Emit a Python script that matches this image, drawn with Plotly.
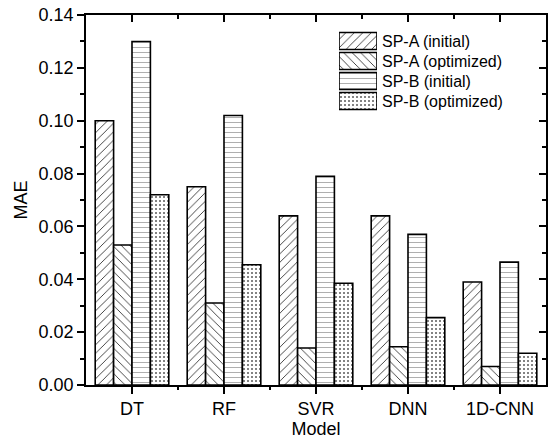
import plotly.graph_objects as go

models = ["DT", "RF", "SVR", "DNN", "1D-CNN"]
series_names = ["SP-A (initial)", "SP-A (optimized)", "SP-B (initial)", "SP-B (optimized)"]
sp_a_initial = [0.100, 0.075, 0.064, 0.064, 0.039]
sp_a_optimized = [0.053, 0.031, 0.014, 0.0145, 0.007]
sp_b_initial = [0.130, 0.102, 0.079, 0.057, 0.0465]
sp_b_optimized = [0.072, 0.0455, 0.0385, 0.0255, 0.012]
y_ticks = [0.00, 0.02, 0.04, 0.06, 0.08, 0.10, 0.12, 0.14]

series_values = [sp_a_initial, sp_a_optimized, sp_b_initial, sp_b_optimized]
patterns = [
    dict(shape="/", size=6, solidity=0.14, fgopacity=0.85),
    dict(shape="\\", size=6, solidity=0.14, fgopacity=0.85),
    dict(shape="-", size=5, solidity=0.14, fgopacity=0.45),
    dict(shape=".", size=4, solidity=0.2, fgopacity=0.65),
]

FONT = "Liberation Sans, Arial, sans-serif"
BLACK = "black"
fig = go.Figure()
for name, vals, pat in zip(series_names, series_values, patterns):
    fig.add_trace(go.Bar(
        x=models, y=vals, name=name, showlegend=False,
        marker=dict(color="white", line=dict(color=BLACK, width=1.6),
                    pattern=dict(fgcolor=BLACK, bgcolor="white", **pat)),
    ))

# legend drawn as a small helper subplot so the swatches are large boxes
for name, pat in zip(series_names, patterns):
    fig.add_trace(go.Bar(
        x=[1], y=[name], orientation="h", xaxis="x4", yaxis="y4",
        showlegend=False, hoverinfo="skip",
        marker=dict(color="white", line=dict(color=BLACK, width=1.6),
                    pattern=dict(fgcolor=BLACK, bgcolor="white", **pat)),
    ))

n = len(models)
L, R, T, B = 86, 2, 15, 56
W, H = 548, 441
pw = W - L - R
ph = H - T - B

def xf(px):
    return (px - L) / pw

def yf(py):
    return (H - B - py) / ph

fig.update_layout(
    width=W, height=H,
    margin=dict(l=L, r=R, t=T, b=B),
    paper_bgcolor="white", plot_bgcolor="white",
    barmode="group", bargap=0.2, bargroupgap=0,
    font=dict(family=FONT, size=18, color=BLACK),
    showlegend=False,
    xaxis=dict(
        title=dict(text="Model", standoff=4, font=dict(size=18)),
        showline=True, linecolor=BLACK, linewidth=1.6,
        ticks="outside", ticklen=7, tickwidth=1.6, tickcolor=BLACK,
        tickfont=dict(size=18),
        showgrid=False, zeroline=False, range=[-0.5, n - 0.5],
    ),
    xaxis2=dict(
        overlaying="x", side="top", range=[-0.5, n - 0.5],
        showline=True, linecolor=BLACK, linewidth=1.6,
        tickvals=list(range(n)), ticks="inside", ticklen=7, tickwidth=1.6, tickcolor=BLACK,
        showticklabels=False, showgrid=False, zeroline=False,
        minor=dict(tickvals=[i + 0.5 for i in range(n - 1)], ticks="inside",
                   ticklen=4, tickwidth=1.6, tickcolor=BLACK),
    ),
    xaxis3=dict(
        overlaying="x", side="bottom", range=[-0.5, n - 0.5],
        showline=False, tickvals=[i + 0.5 for i in range(n - 1)],
        ticks="outside", ticklen=4, tickwidth=1.6, tickcolor=BLACK,
        showticklabels=False, showgrid=False, zeroline=False,
    ),
    yaxis=dict(
        title=dict(text="MAE", standoff=6, font=dict(size=18)),
        range=[0, 0.14], tickvals=y_ticks, tickformat=".2f",
        tickfont=dict(size=18),
        showline=True, linecolor=BLACK, linewidth=1.6,
        ticks="outside", ticklen=7, tickwidth=1.6, tickcolor=BLACK,
        minor=dict(dtick=0.01, ticks="outside", ticklen=4, tickwidth=1.6, tickcolor=BLACK),
        showgrid=False, zeroline=False,
    ),
    yaxis2=dict(
        overlaying="y", side="right", range=[0, 0.14], tickvals=y_ticks,
        showline=True, linecolor=BLACK, linewidth=1.6,
        ticks="inside", ticklen=7, tickwidth=1.6, tickcolor=BLACK,
        minor=dict(dtick=0.01, ticks="inside", ticklen=4, tickwidth=1.6, tickcolor=BLACK),
        showticklabels=False, showgrid=False, zeroline=False,
    ),
    xaxis4=dict(
        domain=[xf(339), xf(377)], anchor="y4", range=[0, 1],
        visible=False, fixedrange=True,
    ),
    yaxis4=dict(
        domain=[yf(111), yf(31)], anchor="x4", side="right",
        autorange="reversed", showline=False, ticks="", showgrid=False,
        zeroline=False, tickfont=dict(size=16), ticklabelstandoff=4,
    ),
)
fig.update_traces(selector=dict(xaxis="x4"), width=0.85)
# invisible helper traces so overlay axes render
fig.add_trace(go.Scatter(x=[0], y=[0], xaxis="x2", yaxis="y2", mode="markers",
                         marker=dict(opacity=0), showlegend=False, hoverinfo="skip"))
fig.add_trace(go.Scatter(x=[0], y=[0], xaxis="x3", yaxis="y", mode="markers",
                         marker=dict(opacity=0), showlegend=False, hoverinfo="skip"))
fig.write_html("out.html")
